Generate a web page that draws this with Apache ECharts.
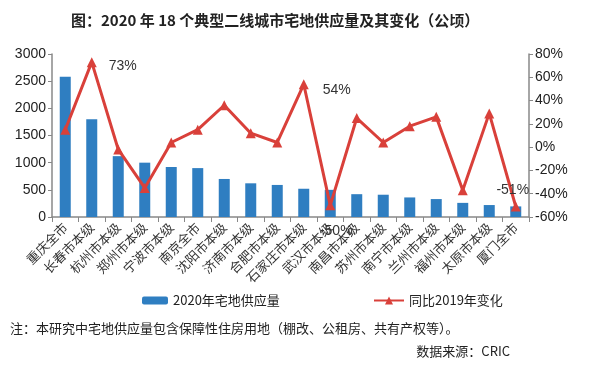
<!DOCTYPE html>
<html><head><meta charset="utf-8">
<script src="https://cdn.jsdelivr.net/npm/echarts@6/dist/echarts.min.js"></script>
<style>html,body{margin:0;padding:0;background:#fff}#c{width:600px;height:375px}</style>
</head><body><div id="c"></div>
<script>
const categories = ['重庆全市','长春市本级','杭州市本级','郑州市本级','宁波市本级','南京全市','沈阳市本级','济南市本级','合肥市本级','石家庄市本级','武汉市本级','南昌市本级','苏州市本级','南宁市本级','兰州市本级','福州市本级','太原市本级','厦门全市'];
const supply = [2580, 1800, 1120, 1000, 920, 900, 700, 620, 590, 520, 500, 420, 410, 360, 330, 260, 220, 195];
const yoy = [15, 73, -2, -35, 4, 15, 36, 12, 4, 54, -50, 25, 4, 18, 26, -37, 29, -51];
const leftTicks = [0, 500, 1000, 1500, 2000, 2500, 3000];
const rightTicks = [-60, -40, -20, 0, 20, 40, 60, 80];

const font = 'Liberation Sans, Arial, sans-serif';
const cjk = 'Noto Sans CJK SC, sans-serif';
const labelCfg = {
  1: {position: 'right', distance: 12, offset: [0, 4]},
  9: {position: 'right', distance: 14, offset: [0, 6]},
  10: {position: 'bottom', distance: 14, offset: [6, 0]},
  17: {position: 'top', distance: 4, offset: [-3, 0]}
};
const lineData = yoy.map((v, i) => {
  const o = {value: v};
  if (labelCfg[i]) o.label = Object.assign({show: true, formatter: v + '%', color: '#333', fontSize: 14, fontFamily: font}, labelCfg[i]);
  return o;
});

const chart = echarts.init(document.getElementById('c'));
chart.setOption({
  animation: false,
  title: {text: '图：2020 年 18 个典型二线城市宅地供应量及其变化（公顷）', left: 66, top: 8,
    textStyle: {fontSize: 15, fontWeight: 'bold', color: '#222', fontFamily: cjk}},
  grid: {left: 52, right: 71, top: 54, bottom: 158},
  legend: [
    {data: ['2020年宅地供应量'], left: 137, top: 289, itemWidth: 26, itemHeight: 8, itemGap: 5,
      textStyle: {fontSize: 13, color: '#222', fontFamily: cjk}},
    {data: ['同比2019年变化'], left: 368, top: 289, itemWidth: 30, itemHeight: 10,
      textStyle: {fontSize: 13, color: '#222', fontFamily: cjk}}
  ],
  xAxis: {type: 'category', data: categories,
    axisLine: {lineStyle: {color: '#888', width: 1.5}},
    axisTick: {show: true, length: 5, lineStyle: {color: '#888'}},
    axisLabel: {rotate: 45, interval: 0, fontSize: 13, color: '#333', fontFamily: cjk, margin: 8}},
  yAxis: [
    {type: 'value', min: leftTicks[0], max: leftTicks[leftTicks.length - 1], interval: 500,
      axisLine: {show: true, lineStyle: {color: '#888', width: 1.5}},
      axisTick: {show: true, length: 4, lineStyle: {color: '#888'}},
      splitLine: {show: false},
      axisLabel: {fontSize: 14, color: '#222', fontFamily: font, margin: 6, formatter: v => String(v)}},
    {type: 'value', min: rightTicks[0], max: rightTicks[rightTicks.length - 1], interval: 20,
      axisLine: {show: true, lineStyle: {color: '#888', width: 1.5}},
      axisTick: {show: true, length: 4, lineStyle: {color: '#888'}},
      splitLine: {show: false},
      axisLabel: {fontSize: 14, color: '#222', fontFamily: font, margin: 6, formatter: '{value}%'}}
  ],
  series: [
    {name: '2020年宅地供应量', type: 'bar', data: supply, barWidth: 11,
      itemStyle: {color: '#2f7ec1'}},
    {name: '同比2019年变化', type: 'line', yAxisIndex: 1, data: lineData,
      symbol: 'triangle', symbolSize: 10, z: 5,
      lineStyle: {color: '#d9403a', width: 3}, itemStyle: {color: '#d9403a'}}
  ],
  graphic: [
    {type: 'text', left: 10, top: 322, style: {text: '注：本研究中宅地供应量包含保障性住房用地（棚改、公租房、共有产权等）。', fontSize: 13, fill: '#222', fontFamily: cjk}},
    {type: 'text', right: 90, top: 345, style: {text: '数据来源：CRIC', fontSize: 13, fill: '#222', fontFamily: cjk}}
  ]
});
</script></body></html>
